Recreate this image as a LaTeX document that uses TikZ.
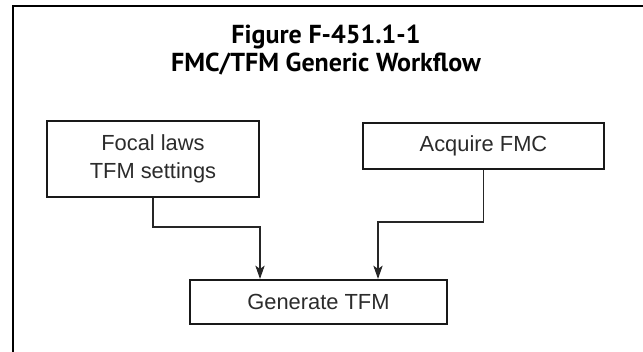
\documentclass[tikz,border=0pt]{standalone}
\usepackage{fontspec}
\setmainfont{Liberation Sans}
\newfontfamily\titlefont{PT Sans}
\usetikzlibrary{arrows.meta}
\definecolor{ink}{HTML}{2B2B2B}
\tikzset{
  box/.style={draw=black!90, line width=1.6pt, inner sep=0pt, align=center,
    text=ink, font=\fontsize{16.4}{20.5}\selectfont},
  conn/.style={draw=black!85, line width=0.8pt,
    -{Stealth[length=10pt, width=7pt, inset=2.5pt]}},
  ttl/.style={anchor=base, inner sep=0pt, font=\titlefont\bfseries\fontsize{19.5}{22}\selectfont},
}
\begin{document}
\begin{tikzpicture}[x=0.75pt, y=-0.75pt]
\useasboundingbox (0,0) rectangle (643,352);
\draw[line width=2pt, line join=miter] (13,352) -- (13,6) -- (643,6);
\node[ttl] (t1) at (326,44) {Figure F-451.1-1};
\node[ttl] (t2) at (326,71.7) {FMC/TFM Generic Workflow};
\node[box, minimum width=159pt, minimum height=57pt] (b1) at (153,159) {Focal laws\\TFM settings};
\node[box, minimum width=180.75pt, minimum height=34.5pt] (b2) at (483.5,146) {Acquire FMC};
\node[box, minimum width=192.75pt, minimum height=33pt] (b3) at (318.5,302) {Generate TFM};
\coordinate (j1) at (260,227);
\coordinate (j2) at (378,222);
\draw[conn] (b1.south) |- (j1) -- (j1 |- b3.north);
\draw[conn] (b2.south) |- (j2) -- (j2 |- b3.north);
\end{tikzpicture}
\end{document}
